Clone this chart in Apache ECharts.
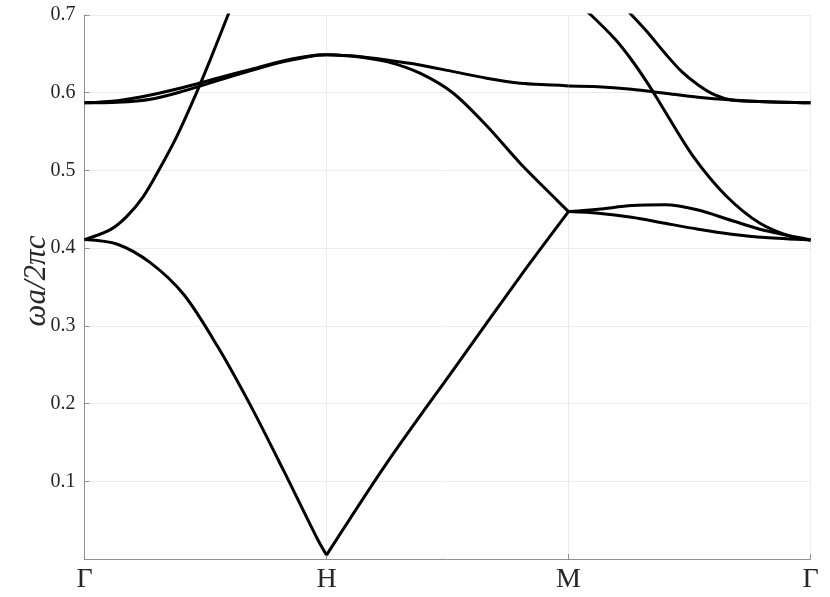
<!DOCTYPE html>
<html>
<head>
<meta charset="utf-8">
<script src="https://cdn.jsdelivr.net/npm/echarts@6/dist/echarts.min.js"></script>
<style>html,body{margin:0;padding:0;background:#fff}#c{width:830px;height:597px}</style>
</head>
<body>
<div id="c"></div>
<script>
// High-symmetry point labels at k = 0, 1, 2, 3
const kLabels = ['Γ', 'H', 'M', 'Γ'];
const yTicks = [0, 0.1, 0.2, 0.3, 0.4, 0.5, 0.6, 0.7];

// Γ -> H
const gh1 = [[0,0.411],[0.136,0.405],[0.273,0.381],[0.411,0.340],[0.549,0.274],[0.687,0.197],[0.824,0.113],[0.962,0.026],[1,0.005]];
const gh2 = [[0,0.411],[0.105,0.4235],[0.174,0.4406],[0.243,0.4663],[0.312,0.503],[0.381,0.5435],[0.45,0.5907],[0.519,0.642],[0.593,0.7],[0.65,0.745]];
const gh3 = [[0,0.587],[0.136,0.5898],[0.273,0.5971],[0.411,0.607],[0.549,0.6186],[0.687,0.630],[0.824,0.6412],[0.962,0.6486],[1,0.649]];
const gh4 = [[0,0.587],[0.136,0.5877],[0.273,0.5916],[0.411,0.6023],[0.549,0.6155],[0.687,0.6284],[0.824,0.640],[0.962,0.6483],[1,0.649]];
// H -> M
const hm1 = [[1,0.005],[1.249,0.1234],[1.524,0.2435],[1.8,0.3635],[2,0.447]];
const hm2 = [[1,0.649],[1.111,0.647],[1.249,0.640],[1.386,0.6251],[1.524,0.5993],[1.662,0.5574],[1.8,0.5093],[1.937,0.4664],[2,0.447]];
const hm3 = [[1,0.649],[1.111,0.6473],[1.249,0.6421],[1.386,0.6357],[1.524,0.6271],[1.662,0.6186],[1.8,0.6122],[1.937,0.610],[2,0.6087]];
// M -> Γ
const mg1 = [[2,0.447],[2.123,0.450],[2.261,0.4548],[2.399,0.4557],[2.536,0.449],[2.674,0.4355],[2.812,0.4226],[3,0.4106]];
const mg2 = [[2,0.447],[2.123,0.445],[2.261,0.4398],[2.399,0.432],[2.536,0.4244],[2.674,0.418],[2.812,0.4136],[3,0.4106]];
const mg3 = [[2,0.6087],[2.123,0.6078],[2.261,0.6044],[2.399,0.5993],[2.536,0.5942],[2.674,0.5907],[2.812,0.5885],[3,0.5872]];
const mg4 = [[2.04,0.714],[2.093,0.7],[2.192,0.6691],[2.261,0.6421],[2.33,0.6107],[2.385,0.583],[2.516,0.5178],[2.654,0.4664],[2.791,0.432],[2.929,0.4138],[3,0.4106]];
const mg5 = [[2.22,0.714],[2.261,0.7],[2.33,0.6765],[2.399,0.6507],[2.468,0.6271],[2.536,0.610],[2.605,0.5971],[2.674,0.5907],[2.812,0.5885],[3,0.5872]];

const bands = [gh1, gh2, gh3, gh4, hm1, hm2, hm3, mg1, mg2, mg3, mg4, mg5];

const chart = echarts.init(document.getElementById('c'));
const font = '"Liberation Serif", "DejaVu Serif", serif';
chart.setOption({
  animation: false,
  grid: { left: 84.5, right: 19.5, top: 15, bottom: 38, containLabel: false },
  xAxis: {
    type: 'value', min: 0, max: 3, interval: 1,
    axisLine: { show: true, onZero: false, lineStyle: { color: '#8f8f8f', width: 1 } },
    axisTick: { show: true, inside: true, length: 5, lineStyle: { color: '#8f8f8f' } },
    splitLine: { show: true, lineStyle: { color: '#ececec', width: 1 } },
    axisLabel: { margin: 7, fontFamily: font, fontSize: 28, color: '#262626',
      formatter: v => kLabels[Math.round(v)] }
  },
  yAxis: {
    type: 'value', min: yTicks[0], max: yTicks[yTicks.length - 1], interval: 0.1,
    name: 'ωa/2πc', nameLocation: 'middle', nameGap: 32, nameMoveOverlap: false,
    nameTextStyle: { fontFamily: font, fontSize: 31, fontStyle: 'italic', color: '#262626', padding: [0, 0, 0, 12] },
    axisLine: { show: true, lineStyle: { color: '#8f8f8f', width: 1 } },
    axisTick: { show: true, inside: true, length: 5, lineStyle: { color: '#8f8f8f' } },
    splitLine: { show: true, lineStyle: { color: '#ececec', width: 1 } },
    axisLabel: { margin: 9, fontFamily: font, fontSize: 20, color: '#262626',
      formatter: v => (Math.abs(v) < 1e-9 ? '' : v.toFixed(1)) }
  },
  series: bands.map(b => ({
    type: 'line', data: b, smooth: 0.3, symbol: 'none', clip: true,
    lineStyle: { color: '#000', width: 3 }
  }))
});
</script>
</body>
</html>
